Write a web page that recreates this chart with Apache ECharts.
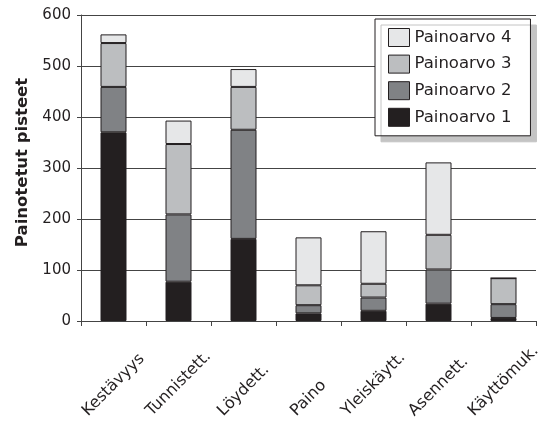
<!DOCTYPE html>
<html><head><meta charset="utf-8">
<script src="https://cdn.jsdelivr.net/npm/echarts@6/dist/echarts.min.js"></script>
<style>html,body{margin:0;padding:0;background:#fff}#c{width:547px;height:426px}</style>
</head><body><div id="c"></div>
<script>
const categories = ['Kestävyys','Tunnistett.','Löydett.','Paino','Yleiskäytt.','Asennett.','Käyttömuk.'];
const painoarvo1 = [370, 77, 161, 15, 20, 34, 6];
const painoarvo2 = [89, 132, 214, 16, 26, 67, 27];
const painoarvo3 = [86, 138, 84, 39, 27, 68, 51];
const painoarvo4 = [17, 46, 35, 94, 103, 142, 0];
const seriesNames = ['Painoarvo 1','Painoarvo 2','Painoarvo 3','Painoarvo 4'];
const yMin = 0, yMax = 600, yInterval = 100;
const yTitle = 'Painotetut pisteet';

const colors = ['#231f20','#808285','#bcbec0','#e6e7e8'];
const ink = '#231f20';
const FONT = '"DejaVu Sans", Verdana, sans-serif';
const LABEL_FONT = 16;

// rotated labels: centred on category, bottoms aligned (padding compensates for length)
const ctx = document.createElement('canvas').getContext('2d');
ctx.font = LABEL_FONT + 'px "DejaVu Sans"';
const widths = categories.map(c => ctx.measureText(c).width);
const maxW = Math.max(...widths);
const rich = {};
categories.forEach((c, i) => {
  const d = (maxW - widths[i]) / 2;
  rich['l' + i] = {padding: [d, d, 0, 0], fontSize: LABEL_FONT, color: ink, fontFamily: FONT};
});

const seriesData = [painoarvo1, painoarvo2, painoarvo3, painoarvo4];
const chart = echarts.init(document.getElementById('c'), null, {renderer: 'canvas'});
chart.setOption({
  animation: false,
  textStyle: {fontFamily: FONT, color: ink},
  grid: {left: 81, right: 11, top: 15, bottom: 105, outerBoundsMode: 'none'},
  legend: {
    orient: 'vertical', left: 375, top: 19,
    data: seriesNames.slice().reverse(),
    icon: 'rect', itemWidth: 21, itemHeight: 18, itemGap: 7.6,
    padding: [9, 19, 9, 13],
    backgroundColor: '#fff', borderColor: ink, borderWidth: 1, borderRadius: 0,
    shadowColor: '#c4c4c4', shadowBlur: 0, shadowOffsetX: 6, shadowOffsetY: 6,
    itemStyle: {borderColor: ink, borderWidth: 1},
    textStyle: {fontSize: 16.5, color: ink, fontFamily: FONT},
    selectedMode: false
  },
  xAxis: {
    type: 'category', data: categories,
    axisLine: {lineStyle: {color: '#444', width: 1}},
    axisTick: {show: true, length: 5, lineStyle: {color: '#444'}},
    axisLabel: {
      interval: 0, rotate: 45, align: 'center', verticalAlign: 'middle', margin: 60,
      formatter: (v, i) => '{l' + i + '|' + v + '}', rich: rich,
      fontSize: LABEL_FONT, color: ink
    }
  },
  yAxis: {
    type: 'value', min: yMin, max: yMax, interval: yInterval,
    name: yTitle, nameLocation: 'middle', nameGap: 44,
    nameTextStyle: {fontWeight: 'bold', fontSize: 16.5, color: ink, fontFamily: FONT, padding: [0, 0, 0, 11]},
    axisLine: {show: true, lineStyle: {color: '#444', width: 1}},
    axisTick: {show: true, length: 4, lineStyle: {color: '#444'}},
    axisLabel: {fontSize: 15, color: ink, margin: 10},
    splitLine: {show: true, lineStyle: {color: '#444', width: 1}}
  },
  series: seriesData.map((d, i) => ({
    name: seriesNames[i], type: 'bar', stack: 'total', data: d,
    barWidth: '40%',
    itemStyle: {color: colors[i], borderColor: ink, borderWidth: 1},
    emphasis: {disabled: true}
  }))
});
</script></body></html>
